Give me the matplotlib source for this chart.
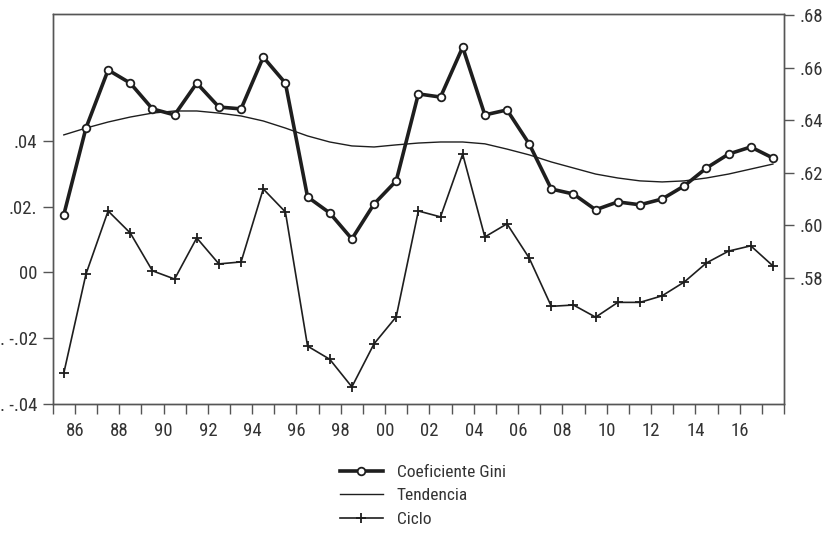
import matplotlib
matplotlib.use("Agg")
import matplotlib.pyplot as plt
from matplotlib import font_manager
from matplotlib.ticker import FixedLocator, MultipleLocator

# buscar una fuente condensada instalada
nombres = {f.name for f in font_manager.fontManager.ttflist}
familia = 'DejaVu Sans'
for cand in ['Liberation Sans Narrow', 'Roboto Condensed', 'Open Sans Condensed',
             'DejaVu Sans Condensed', 'Noto Sans Condensed']:
    if cand in nombres:
        familia = cand
        break
plt.rcParams['font.family'] = [familia, 'DejaVu Sans']

anios = list(range(1985, 2018))

gini = [0.6040, 0.6370, 0.6591, 0.6541, 0.6443, 0.6420, 0.6541, 0.6450, 0.6443, 0.6640,
        0.6541, 0.6108, 0.6047, 0.5948, 0.6081, 0.6169, 0.6500, 0.6488, 0.6678, 0.6420,
        0.6439, 0.6310, 0.6138, 0.6119, 0.6059, 0.6089, 0.6078, 0.6100, 0.6150, 0.6218,
        0.6271, 0.6298, 0.6256]

tendencia = [0.6344, 0.6370, 0.6393, 0.6412, 0.6427, 0.6435, 0.6435, 0.6427, 0.6416, 0.6397,
             0.6370, 0.6340, 0.6317, 0.6302, 0.6298, 0.6306, 0.6313, 0.6317, 0.6317, 0.6310,
             0.6290, 0.6268, 0.6241, 0.6218, 0.6195, 0.6180, 0.6169, 0.6165, 0.6169, 0.6180,
             0.6195, 0.6214, 0.6233]

ciclo = [-0.0306, -0.0005, 0.0187, 0.0120, 0.0005, -0.0020, 0.0105, 0.0026, 0.0032, 0.0254,
         0.0184, -0.0224, -0.0264, -0.0348, -0.0217, -0.0135, 0.0187, 0.0169, 0.0360, 0.0108,
         0.0148, 0.0044, -0.0103, -0.0099, -0.0136, -0.0091, -0.0091, -0.0071, -0.0029, 0.0029,
         0.0065, 0.0081, 0.0020]

ticks_izq = [-0.04, -0.02, 0.0, 0.02, 0.04]
etiq_izq = ['. -.04', '. -.02', '00', '.02.', '.04']
ticks_der = [0.58, 0.60, 0.62, 0.64, 0.66, 0.68]
etiq_der = ['.58', '.60', '.62', '.64', '.66', '.68']
ticks_x = list(range(1986, 2017, 2))
etiq_x = [str(a)[2:] for a in ticks_x]

x = [a + 0.5 for a in anios]
negro = '#1e1e1e'
gris = '#555555'

fig = plt.figure(figsize=(8.25, 5.35), dpi=100)
ax = fig.add_axes([0.0639, 0.2449, 0.8864, 0.7289])
ax2 = ax.twinx()

l3, = ax.plot(x, ciclo, color=negro, lw=1.2, marker='+', ms=7, mew=1.3)
l1, = ax2.plot(x, gini, color=negro, lw=2.6, marker='o', ms=5.5, mfc='white', mec=negro, mew=1.3, zorder=3)
l2, = ax2.plot(x, tendencia, color=negro, lw=1.0, zorder=2)

ax.set_xlim(1985, 2018)
ax.set_ylim(-0.04, 0.0786)
ax2.set_ylim(0.532, 0.6804)

ax.xaxis.set_major_locator(FixedLocator(ticks_x))
ax.set_xticklabels(etiq_x)
ax.xaxis.set_minor_locator(MultipleLocator(1))
ax.set_yticks(ticks_izq)
ax.set_yticklabels(etiq_izq)
ax2.set_yticks(ticks_der)
ax2.set_yticklabels(etiq_der)

for a in (ax, ax2):
    for s in a.spines.values():
        s.set_color(gris)
        s.set_linewidth(1.0)
    a.tick_params(which='both', direction='out', length=7, width=1.0, color=gris,
                  labelsize=13.5, labelcolor='#333333', pad=4)
ax.tick_params(axis='x', pad=6)

fig.legend([l1, l2, l3], ['Coeficiente Gini', 'Tendencia', 'Ciclo'],
           loc='upper left', bbox_to_anchor=(0.412, 0.131), frameon=False,
           fontsize=12.5, handlelength=2.48, handletextpad=0.8, labelspacing=0.47,
           borderpad=0, borderaxespad=0, labelcolor='#333333')

fig.savefig('out.png', dpi=100)
